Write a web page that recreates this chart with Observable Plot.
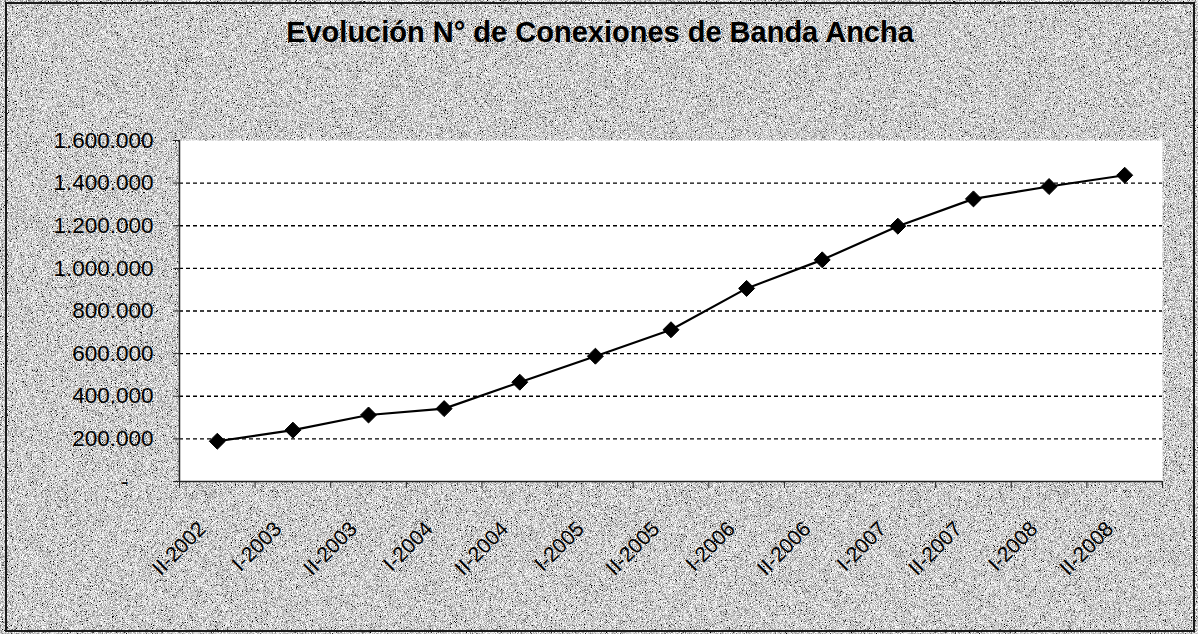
<!DOCTYPE html>
<html>
<head>
<meta charset="utf-8">
<script src="https://cdn.jsdelivr.net/npm/d3@7"></script>
<script src="https://cdn.jsdelivr.net/npm/@observablehq/plot@0.6"></script>
<style>
  html, body { margin: 0; padding: 0; }
  #chart {
    position: relative;
    width: 1198px;
    height: 634px;
    overflow: hidden;
    background-color: #a4a4a4;
    background-image: url("data:image/svg+xml;utf8,<svg xmlns='http://www.w3.org/2000/svg' width='1198' height='634'><filter id='n' x='0' y='0' width='100%25' height='100%25'><feTurbulence type='fractalNoise' baseFrequency='1.2' numOctaves='3' seed='7' stitchTiles='stitch'/><feColorMatrix type='saturate' values='0'/><feComponentTransfer><feFuncR type='linear' slope='3.0' intercept='-0.88'/><feFuncG type='linear' slope='3.0' intercept='-0.88'/><feFuncB type='linear' slope='3.0' intercept='-0.88'/><feFuncA type='linear' slope='0' intercept='1'/></feComponentTransfer></filter><rect width='100%25' height='100%25' filter='url(%23n)'/></svg>");
    font-family: "Liberation Sans", Arial, sans-serif;
  }
  #border {
    position: absolute;
    left: 5px; top: 2px; right: 3px; bottom: 2px;
    border: 2px solid #1a1a1a;
    pointer-events: none;
  }
  #title {
    height: 90px;
    box-sizing: border-box;
    padding-top: 18px;
    line-height: 29px;
    font-size: 29px;
    font-weight: bold;
    color: #000;
    text-align: center;
    padding-left: 2px;
  }
  #plot svg { display: block; }
</style>
</head>
<body>
<div id="chart">
  <div id="title">Evolución N° de Conexiones de Banda Ancha</div>
  <div id="plot"></div>
  <div id="border"></div>
</div>
<script>
// Categories (semesters)
const periods = ["II-2002","I-2003","II-2003","I-2004","II-2004","I-2005","II-2005","I-2006","II-2006","I-2007","II-2007","I-2008","II-2008"];
// Number of broadband connections
const connections = [189000, 241000, 312000, 342000, 466000, 588000, 712000, 906000, 1040000, 1198000, 1326000, 1384000, 1437000];
// Y axis tick values
const yTicks = [0, 200000, 400000, 600000, 800000, 1000000, 1200000, 1400000, 1600000];

const rows = periods.map((p, i) => ({i, period: p, value: connections[i]}));
const xDomain = [-0.5, periods.length - 0.5];
const boundaries = d3.range(periods.length + 1).map(k => k - 0.5);
const centers = d3.range(periods.length);
const yMax = yTicks[yTicks.length - 1];
const esFormat = d3.formatLocale({decimal: ",", thousands: ".", grouping: [3], currency: ["", ""]}).format(",d");

const chart = Plot.plot({
  width: 1198,
  height: 544,
  marginTop: 50,
  marginBottom: 153,
  marginLeft: 179,
  marginRight: 36,
  style: {fontFamily: "'Liberation Sans', Arial, sans-serif", fontSize: "22px", background: "transparent", color: "#000", overflow: "visible"},
  x: {type: "linear", domain: xDomain, axis: null, label: null},
  y: {domain: [0, yMax], axis: null, label: null},
  marks: [
    Plot.frame({fill: "white", stroke: null}),
    Plot.gridY(yTicks.filter(v => v > 0 && v < yMax), {stroke: "#000", strokeOpacity: 1, strokeWidth: 1.3, strokeDasharray: "4,3"}),
    Plot.axisY(yTicks, {tickSize: 6, tickPadding: 20, stroke: "#222", fill: "#000", fontSize: 22.5, label: null,
      tickFormat: v => v === 0 ? "-\u00a0\u00a0\u00a0\u00a0" : esFormat(v)}),
    Plot.axisX(boundaries, {tickSize: 7, stroke: "#222", tickFormat: () => "", label: null}),
    Plot.axisX(centers, {tickSize: 0, tickPadding: 44, dx: -15, tickRotate: -45, fontSize: 21, fill: "#000", label: null,
      tickFormat: i => periods[i]}),
    Plot.ruleY([0], {stroke: "#222", strokeWidth: 1.5}),
    Plot.ruleX([xDomain[0]], {stroke: "#222", strokeWidth: 1.5}),
    Plot.line(rows, {x: "i", y: "value", stroke: "#000", strokeWidth: 2.2}),
    Plot.dot(rows, {x: "i", y: "value", symbol: d3.symbolDiamond2, r: 7.2, fill: "#000", stroke: "#000", strokeWidth: 1})
  ]
});
document.getElementById("plot").appendChild(chart);
</script>
</body>
</html>
